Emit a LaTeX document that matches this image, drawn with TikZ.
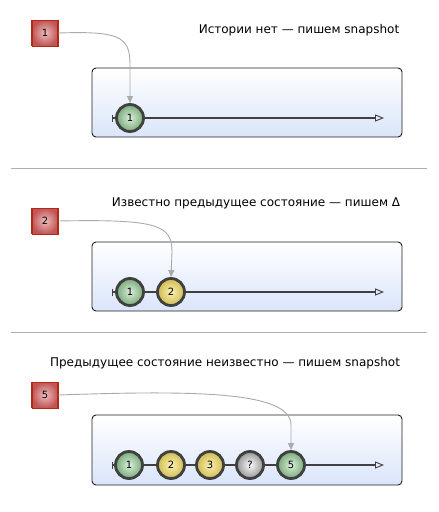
\documentclass[tikz,border=0pt]{standalone}
\usepackage{fontspec}
\setmainfont{DejaVu Sans}
\usetikzlibrary{arrows.meta}
\definecolor{panelbot}{RGB}{218,229,250}
\definecolor{panelfrm}{RGB}{30,30,30}
\definecolor{ringc}{RGB}{64,64,64}
\definecolor{gin}{RGB}{220,238,220}
\definecolor{gout}{RGB}{120,170,120}
\definecolor{yin}{RGB}{250,242,180}
\definecolor{yout}{RGB}{208,186,80}
\definecolor{qin}{RGB}{250,250,250}
\definecolor{qout}{RGB}{150,150,150}
\definecolor{rin}{RGB}{238,190,190}
\definecolor{rout}{RGB}{192,85,85}
\definecolor{rbar}{RGB}{180,40,20}
\definecolor{connc}{RGB}{170,170,170}
\definecolor{sepc}{RGB}{175,175,175}
\tikzset{
  panel/.style={draw=panelfrm, line width=0.9pt, rounded corners=4pt, top color=white, bottom color=panelbot},
  state/.style={circle, minimum size=27pt, inner sep=0pt, line width=2.8pt, draw=ringc, font=\fontsize{10}{10}\selectfont},
  gstate/.style={state, inner color=gin, outer color=gout},
  ystate/.style={state, inner color=yin, outer color=yout},
  qstate/.style={state, inner color=qin, outer color=qout},
  event/.style={rectangle, minimum width=26pt, minimum height=26pt, inner sep=0pt, inner color=rin, outer color=rout, draw=rbar, line width=0.6pt, font=\fontsize{10}{10}\selectfont},
  conn/.style={draw=connc, line width=0.9pt, -{Triangle[width=6pt,length=7pt]}},
  tline/.style={draw=black!75, line width=1.3pt, -{Triangle[open,width=7pt,length=9pt,line width=0.9pt]}},
  caption/.style={font=\fontsize{12}{14}\selectfont, text=black, inner sep=0pt},
  sep/.style={draw=sepc, line width=0.8pt}
}
\newcommand{\evbars}[1]{%
  \draw[rbar, line width=2pt] (#1.north west) -- (#1.south west);
  \draw[rbar, line width=2pt] (#1.north east) -- (#1.south east);}
\newcommand{\tick}[1]{\draw[black!75, line width=1pt] ([yshift=3.5pt]#1) -- ([yshift=-3.5pt]#1);}
\begin{document}
\begin{tikzpicture}[x=1pt,y=-1pt]
\useasboundingbox (0,0) rectangle (439,512);
% ---------- section 1
\node[caption] (t1) at (299,30) {Истории нет — пишем snapshot};
\draw[panel] (92,68) rectangle (402,137);
\coordinate (a1) at (112,118);
\coordinate (z1) at (384,118);
\tick{a1}
\draw[tline] (a1) -- (z1);
\node[gstate] (s11) at (130,118) {1};
\node[event] (e1) at (45,33) {1};
\evbars{e1}
\draw[conn] (e1.east) .. controls (118,31) and (130,36) .. (130,64) -- (s11.north);
% separator
\coordinate (l1a) at (11,168);
\coordinate (l1b) at (427,168);
\draw[sep] (l1a) -- (l1b);
% ---------- section 2
\node[caption] (t2) at (256,203) {Известно предыдущее состояние — пишем Δ};
\draw[panel] (92,242) rectangle (402,311);
\coordinate (a2) at (112,292);
\coordinate (z2) at (384,292);
\tick{a2}
\draw[tline] (a2) -- (z2);
\node[gstate] (s21) at (130,292) {1};
\node[ystate] (s22) at (171,292) {2};
\node[event] (e2) at (45,221) {2};
\evbars{e2}
\draw[conn] (e2.east) .. controls (158,219) and (172,225) .. (172,252) -- (s22.north);
% separator
\coordinate (l2a) at (11,332);
\coordinate (l2b) at (427,332);
\draw[sep] (l2a) -- (l2b);
% ---------- section 3
\node[caption] (t3) at (225,363) {Предыдущее состояние неизвестно — пишем snapshot};
\draw[panel] (92,415) rectangle (402,485);
\coordinate (a3) at (112,465);
\coordinate (z3) at (384,465);
\tick{a3}
\draw[tline] (a3) -- (z3);
\node[gstate] (s31) at (129,465) {1};
\node[ystate] (s32) at (171,465) {2};
\node[ystate] (s33) at (210,465) {3};
\node[qstate] (s34) at (250,465) {?};
\node[gstate] (s35) at (291,465) {5};
\node[event] (e3) at (45,395) {5};
\evbars{e3}
\draw[conn] (e3.east) .. controls (200,390) and (291,392) .. (291,425) -- (s35.north);
\end{tikzpicture}
\end{document}
